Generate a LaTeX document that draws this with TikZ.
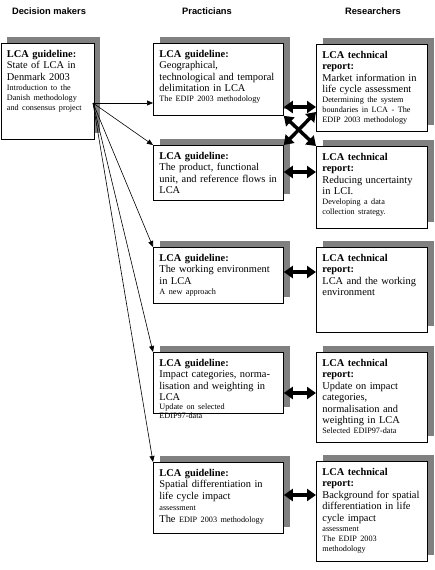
\documentclass[tikz,border=0pt]{standalone}
\usepackage{fontspec}
\setmainfont{Liberation Serif}
\setsansfont{Liberation Sans}
\usetikzlibrary{shadows,arrows.meta}
\newcommand\notefont{\fontsize{8.2}{10}\selectfont}
\tikzset{
  cell/.style={draw, line width=0.8pt, fill=white, anchor=north west, align=left,
    inner xsep=6pt, inner ysep=0pt, text height=14pt,
    font=\fontsize{10.4}{11.5}\selectfont,
    drop shadow={shadow xshift=6.5pt, shadow yshift=6.5pt, fill=black!50, opacity=1}},
  head/.style={font=\sffamily\bfseries\fontsize{9.3}{11}\selectfont},
  feed/.style={line width=0.6pt, -{Triangle[length=6pt,width=5pt]}},
  link/.style={line width=3.5pt, {Triangle[length=9pt,width=12pt]}-{Triangle[length=9pt,width=12pt]}}
}
\begin{document}
\begin{tikzpicture}[x=1pt,y=-1pt]
\useasboundingbox (0,0) rectangle (435,570);
\node[head] (hdm) at (49,11) {Decision makers};
\node[head] (hpr) at (207,11) {Practicians};
\node[head] (hre) at (373,11) {Researchers};
% decision makers
\node[cell, text width=81pt, text depth=82pt] (dm) at (0.5,43)
  {\textbf{LCA guideline:}\\State of LCA in\\Denmark 2003\par
   \notefont Introduction to the\\Danish methodology\\and consensus project\par};
% practicians
\node[cell, text width=118pt, text depth=58pt] (p1) at (153,43)
  {\textbf{LCA guideline:}\\Geographical,\\technological and temporal\\delimitation in LCA\par
   \notefont The EDIP 2003 methodology\par};
\node[cell, text width=118pt, text depth=41pt] (p2) at (153,145)
  {\textbf{LCA guideline:}\\The product, functional\\unit, and reference flows in\\LCA};
\node[cell, text width=118pt, text depth=42pt] (p3) at (153,247)
  {\textbf{LCA guideline:}\\The working environment\\in LCA\par
   \notefont A new approach\par};
\node[cell, text width=118pt, text depth=47pt] (p4) at (153,352)
  {\textbf{LCA guideline:}\\Impact categories, norma-\\lisation and weighting in\\LCA\par
   \fontsize{8.2}{9}\selectfont Update on selected\\EDIP97-data\par};
\node[cell, text width=118pt, text depth=57pt] (p5) at (153,462)
  {\textbf{LCA guideline:}\\Spatial differentiation in\\life cycle impact\\{\notefont assessment}\\The {\notefont EDIP 2003 methodology}};
% researchers
\node[cell, text width=99pt, text depth=73pt] (r1) at (316,44)
  {\textbf{LCA technical}\\\textbf{report:}\\Market information in\\life cycle assessment\par
   \notefont Determining the system\\boundaries in LCA - The\\EDIP 2003 methodology\par};
\node[cell, text width=99pt, text depth=68pt] (r2) at (316,146)
  {\textbf{LCA technical}\\\textbf{report:}\\Reducing uncertainty\\in LCI.\par
   \notefont Developing a data\\collection strategy.\par};
\node[cell, text width=99pt, text depth=71pt] (r3) at (316,247)
  {\textbf{LCA technical}\\\textbf{report:}\\LCA and the working\\environment};
\node[cell, text width=99pt, text depth=76pt] (r4) at (316,352)
  {\textbf{LCA technical}\\\textbf{report:}\\Update on impact\\categories,\\normalisation and\\weighting in LCA\par
   \notefont Selected EDIP97-data\par};
\node[cell, text width=99pt, text depth=86pt] (r5) at (316,461)
  {\textbf{LCA technical}\\\textbf{report:}\\Background for spatial\\differentiation in life\\cycle impact\par
   \notefont assessment\\The EDIP 2003\\methodology\par};
% arrows
\coordinate (src) at (93,103);
\coordinate (row1) at (300,107);
\coordinate (row2) at (300,172);
\coordinate (row3) at (300,272);
\coordinate (row4) at (300,393);
\coordinate (row5) at (300,495);
\coordinate (crossa) at (300,112);
\draw[feed] (src) -- (p1.west |- src);
\draw[feed] (src) -- (p2.north west);
\draw[feed] (src) -- (p3.north west);
\draw[feed] (src) -- (p4.north west);
\draw[feed] (src) -- (p5.north west);
\draw[link] (p1.east |- row1) -- (r1.west |- row1);
\draw[link] (p2.east |- row2) -- (r2.west |- row2);
\draw[link] (p3.east |- row3) -- (r3.west |- row3);
\draw[link] (p4.east |- row4) -- (r4.west |- row4);
\draw[link] (p5.east |- row5) -- (r5.west |- row5);
\draw[link] (p2.north east) -- (r1.west |- crossa);
\draw[link] (p1.south east) -- (r2.north west);
\end{tikzpicture}
\end{document}
